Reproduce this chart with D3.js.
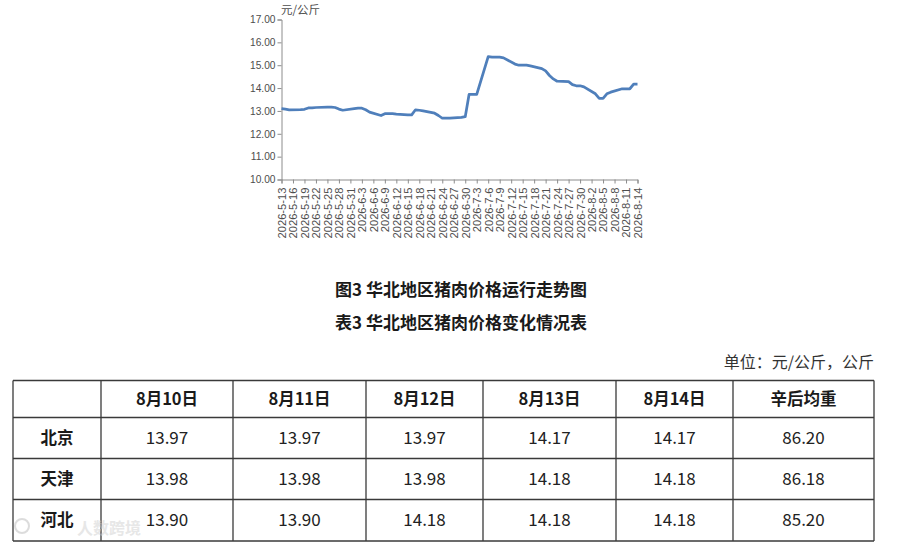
<!DOCTYPE html>
<html>
<head>
<meta charset="utf-8">
<script src="https://cdn.jsdelivr.net/npm/d3@7"></script>
<style>
  body { margin: 0; background: #fff; }
  svg { display: block; }
</style>
</head>
<body>
<script>
// daily pork price (元/公斤), working days only
const dates = [
  "2026-05-13","2026-05-14","2026-05-15","2026-05-18","2026-05-19","2026-05-20","2026-05-21","2026-05-22",
  "2026-05-25","2026-05-26","2026-05-27","2026-05-28","2026-05-29","2026-06-01","2026-06-02","2026-06-03",
  "2026-06-04","2026-06-05","2026-06-08","2026-06-09","2026-06-10","2026-06-11","2026-06-12","2026-06-15",
  "2026-06-16","2026-06-17","2026-06-18","2026-06-19","2026-06-22","2026-06-23","2026-06-24","2026-06-25",
  "2026-06-26","2026-06-29","2026-06-30","2026-07-01","2026-07-02","2026-07-03","2026-07-06","2026-07-07",
  "2026-07-08","2026-07-09","2026-07-10","2026-07-13","2026-07-14","2026-07-15","2026-07-16","2026-07-17",
  "2026-07-20","2026-07-21","2026-07-22","2026-07-23","2026-07-24","2026-07-27","2026-07-28","2026-07-29",
  "2026-07-30","2026-07-31","2026-08-03","2026-08-04","2026-08-05","2026-08-06","2026-08-07","2026-08-10",
  "2026-08-11","2026-08-12","2026-08-13","2026-08-14"
];
const prices = [
  13.10, 13.08, 13.05, 13.06, 13.07, 13.13, 13.13, 13.15,
  13.17, 13.17, 13.15, 13.08, 13.03, 13.10, 13.12, 13.12,
  13.05, 12.95, 12.80, 12.88, 12.88, 12.88, 12.86, 12.83,
  12.83, 13.05, 13.03, 13.00, 12.90, 12.80, 12.68, 12.68,
  12.68, 12.72, 12.75, 13.72, 13.72, 13.72, 15.38, 15.35,
  15.35, 15.35, 15.32, 15.05, 15.00, 15.00, 15.00, 14.97,
  14.85, 14.75, 14.55, 14.40, 14.30, 14.28, 14.15, 14.10,
  14.10, 14.05, 13.75, 13.55, 13.55, 13.75, 13.82, 13.97,
  13.97, 13.97, 14.17, 14.17
];
const yTicks = [10, 11, 12, 13, 14, 15, 16, 17];

// table 3
const tableDays = ["8月10日", "8月11日", "8月12日", "8月13日", "8月14日"];
const lastCol = "辛后均重";
const regions = ["北京", "天津", "河北"];
const regionPrices = [
  [13.97, 13.97, 13.97, 14.17, 14.17],
  [13.98, 13.98, 13.98, 14.18, 14.18],
  [13.90, 13.90, 14.18, 14.18, 14.18]
];
const regionWeights = [86.20, 86.18, 85.20];

const W = 900, H = 545;
const cjk = "'Noto Sans CJK SC', 'Noto Sans', sans-serif";
const axisFont = "'Liberation Sans', Arial, sans-serif";

const svg = d3.select("body").append("svg")
  .attr("width", W)
  .attr("height", H);

const parse = d3.timeParse("%Y-%m-%d");
const data = dates.map((d, i) => ({ date: parse(d), value: prices[i] }));

const start = parse("2026-05-13"), end = parse("2026-08-14");

const xScale = d3.scaleTime()
  .domain([start, end])
  .range([281.5, 637.5]);

const yScale = d3.scaleLinear()
  .domain([10, 17])
  .range([179.5, 19.5]);

const axisColor = "#8c8c8c";
const labelColor = "#4d4d4d";

// y axis
const yAxis = d3.axisLeft(yScale)
  .tickValues(yTicks)
  .tickSize(4)
  .tickFormat(d3.format(".2f"));

const gy = svg.append("g")
  .attr("transform", "translate(281.5,0)")
  .call(yAxis);
gy.select(".domain").attr("stroke", axisColor);
gy.selectAll(".tick line").attr("stroke", axisColor);
gy.selectAll(".tick text")
  .attr("fill", labelColor)
  .attr("font-family", axisFont)
  .attr("font-size", 10.2)
  .attr("x", -6);

// x axis, one tick every 3 days
const xTicks = d3.timeDay.range(start, d3.timeDay.offset(end, 1), 3);
const fmt = d => `${d.getFullYear()}-${d.getMonth() + 1}-${d.getDate()}`;

const xAxis = d3.axisBottom(xScale)
  .tickValues(xTicks)
  .tickSize(4)
  .tickFormat(fmt);

const gx = svg.append("g")
  .attr("transform", "translate(0,179.5)")
  .call(xAxis);
gx.select(".domain").attr("stroke", axisColor);
gx.selectAll(".tick line").attr("stroke", axisColor);
gx.selectAll(".tick text")
  .attr("fill", labelColor)
  .attr("font-family", axisFont)
  .attr("font-size", 11.2)
  .attr("transform", "rotate(-90)")
  .attr("text-anchor", "end")
  .attr("x", -8)
  .attr("y", 0)
  .attr("dy", "0.35em");

svg.append("text")
  .attr("x", 281)
  .attr("y", 14)
  .attr("font-family", cjk)
  .attr("font-size", 11.5)
  .attr("fill", labelColor)
  .text("元/公斤");

// price line
const line = d3.line()
  .x(d => xScale(d.date))
  .y(d => yScale(d.value));

svg.append("path")
  .datum(data)
  .attr("fill", "none")
  .attr("stroke", "#4f7fbb")
  .attr("stroke-width", 2.75)
  .attr("stroke-linejoin", "round")
  .attr("d", line);

// captions
svg.append("text")
  .attr("x", 461)
  .attr("y", 296)
  .attr("text-anchor", "middle")
  .attr("font-family", cjk)
  .attr("font-weight", "bold")
  .attr("font-size", 17)
  .attr("fill", "#1a1a1a")
  .text("图3 华北地区猪肉价格运行走势图");

svg.append("text")
  .attr("x", 461)
  .attr("y", 329)
  .attr("text-anchor", "middle")
  .attr("font-family", cjk)
  .attr("font-weight", "bold")
  .attr("font-size", 17)
  .attr("fill", "#1a1a1a")
  .text("表3 华北地区猪肉价格变化情况表");

svg.append("text")
  .attr("x", 874)
  .attr("y", 368)
  .attr("text-anchor", "end")
  .attr("font-family", cjk)
  .attr("font-size", 16)
  .attr("fill", "#333")
  .text("单位：元/公斤，公斤");

// table
const colEdges = [13, 101, 233, 366, 483, 616, 733, 874];
const rowEdges = [380.5, 417.5, 458.5, 499.5, 541];

const table = svg.append("g");

table.selectAll(".hline")
  .data(rowEdges)
  .enter()
  .append("line")
  .attr("x1", colEdges[0])
  .attr("x2", colEdges[colEdges.length - 1])
  .attr("y1", d => d)
  .attr("y2", d => d)
  .attr("stroke", "#3a3a3a")
  .attr("stroke-width", 1.3);

table.selectAll(".vline")
  .data(colEdges)
  .enter()
  .append("line")
  .attr("x1", d => d)
  .attr("x2", d => d)
  .attr("y1", rowEdges[0])
  .attr("y2", rowEdges[rowEdges.length - 1])
  .attr("stroke", "#3a3a3a")
  .attr("stroke-width", 1.3);

const colMid = i => (colEdges[i] + colEdges[i + 1]) / 2;
const rowMid = i => (rowEdges[i] + rowEdges[i + 1]) / 2;

// faint watermark, kept clear of the row label
const wm = svg.append("g").attr("opacity", 0.5);
wm.append("circle")
  .attr("cx", 22).attr("cy", 526).attr("r", 7)
  .attr("fill", "none").attr("stroke", "#bbb").attr("stroke-width", 2);
wm.append("text")
  .attr("x", 77)
  .attr("y", 534)
  .attr("font-family", cjk)
  .attr("font-weight", "bold")
  .attr("font-size", 16)
  .attr("fill", "#d0d0d0")
  .text("人数跨境");

const header = tableDays.concat([lastCol]);
table.selectAll(".head")
  .data(header)
  .enter()
  .append("text")
  .attr("x", (d, i) => colMid(i + 1))
  .attr("y", rowMid(0))
  .attr("dy", "0.36em")
  .attr("text-anchor", "middle")
  .attr("font-family", cjk)
  .attr("font-weight", "bold")
  .attr("font-size", 16.5)
  .attr("fill", "#1a1a1a")
  .text(d => d);

regions.forEach((r, ri) => {
  svg.append("text")
    .attr("x", colMid(0))
    .attr("y", rowMid(ri + 1))
    .attr("dy", "0.36em")
    .attr("text-anchor", "middle")
    .attr("font-family", cjk)
    .attr("font-weight", "bold")
    .attr("font-size", 16.5)
    .attr("fill", "#1a1a1a")
    .text(r);

  const vals = regionPrices[ri].concat([regionWeights[ri]]);
  svg.selectAll(".row" + ri)
    .data(vals)
    .enter()
    .append("text")
    .attr("class", "row" + ri)
    .attr("x", (d, i) => colMid(i + 1))
    .attr("y", rowMid(ri + 1))
    .attr("dy", "0.36em")
    .attr("text-anchor", "middle")
    .attr("font-family", cjk)
    .attr("font-size", 17)
    .attr("fill", "#222")
    .text(d => d.toFixed(2));
});
</script>
</body>
</html>
